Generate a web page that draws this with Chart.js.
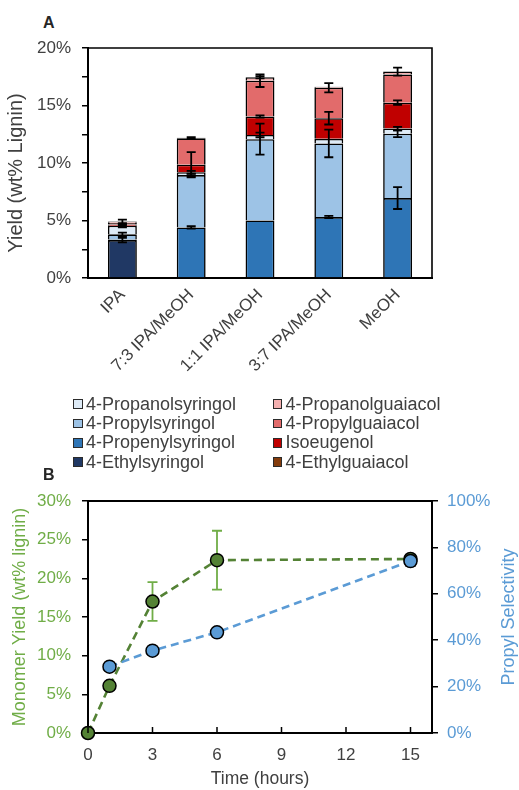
<!DOCTYPE html>
<html>
<head>
<meta charset="utf-8">
<script src="https://cdn.jsdelivr.net/npm/chart.js@4/dist/chart.umd.min.js"></script>
<style>
  html, body { margin: 0; padding: 0; background: #fff; }
  body { width: 519px; height: 790px; position: relative; overflow: hidden;
         font-family: "Liberation Sans", Arial, sans-serif; }
  #wrapA { position: absolute; left: 0; top: 0; width: 519px; height: 395px; }
  #wrapB { position: absolute; left: 0; top: 470px; width: 519px; height: 320px; }
  .tag { position: absolute; font-weight: bold; font-size: 16px; color: #262626; }
  #legend { position: absolute; left: 73px; top: 394.5px; display: grid;
            grid-template-columns: 199.5px auto; grid-template-rows: repeat(4, 19.35px);
            grid-auto-flow: column; font-size: 18px; color: #404040; }
  .item { display: flex; align-items: center; white-space: nowrap; line-height: 19.35px; }
  .box { width: 7.5px; height: 7.5px; border: 1.3px solid #2b2b2b; margin-right: 3.5px; flex: none; }
</style>
</head>
<body>
<div class="tag" style="left:43px; top:14px;">A</div>
<div id="wrapA"><canvas id="chartA" width="519" height="395"></canvas></div>
<div id="legend"></div>
<div class="tag" style="left:43px; top:466px;">B</div>
<div id="wrapB"><canvas id="chartB" width="519" height="320"></canvas></div>

<script>
// ---- Panel A: monomer yields by solvent (wt% of lignin) ----
const solvents = ['IPA', '7:3 IPA/MeOH', '1:1 IPA/MeOH', '3:7 IPA/MeOH', 'MeOH'];

const ethylsyringol     = [3.30, 0.00, 0.00, 0.00, 0.00];
const propenylsyringol  = [0.05, 4.40, 5.00, 5.30, 6.95];
const propylsyringol    = [0.45, 4.55, 7.07, 6.40, 5.60];
const propanolsyringol  = [0.75, 0.25, 0.37, 0.40, 0.45];
const ethylguaiacol     = [0.00, 0.00, 0.00, 0.00, 0.00];
const isoeugenol        = [0.10, 0.65, 1.60, 1.80, 2.25];
const propylguaiacol    = [0.15, 2.30, 3.12, 2.65, 2.45];
const propanolguaiacol  = [0.12, 0.05, 0.30, 0.08, 0.25];

// standard deviations, drawn at the top of each stacked segment
const ethylsyringolErr    = [0.20, 0, 0, 0, 0];
const propenylsyringolErr = [0, 0.10, 0, 0.10, 0.95];
const propylsyringolErr   = [0.15, 0.10, 1.35, 1.20, 0.30];
const propanolsyringolErr = [0.15, 0.12, 0.20, 0, 0.15];
const ethylguaiacolErr    = [0, 0, 0, 0, 0];
const isoeugenolErr       = [0.05, 1.10, 0.10, 0.55, 0.20];
const propylguaiacolErr   = [0, 0, 0.55, 0.40, 0];
const propanolguaiacolErr = [0.15, 0.05, 0.10, 0, 0.35];

// ---- Panel B: time course ----
const yieldHours = [0, 1, 3, 6, 15];
const monomerYield = [0, 6.1, 17.0, 22.35, 22.5];
const monomerYieldErr = [0, 0, 2.5, 3.8, 0];
const selectivityHours = [1, 3, 6, 15];
const propylSelectivity = [28.6, 35.5, 43.4, 74.1];
const propylSelectivityErr = [0, 0, 0, 2.0];
const hourTicks = [0, 3, 6, 9, 12, 15];

const FONT = '"Liberation Sans", Arial, sans-serif';
const TEXT = '#404040';
const GREEN = '#548235', GREEN_TXT = '#70AD47';
const BLUE = '#5B9BD5';

Chart.defaults.font.family = FONT;
Chart.defaults.font.size = 17;
Chart.defaults.color = TEXT;
Chart.defaults.animation = false;

const segments = [
  { label: '4-Ethylsyringol',    data: ethylsyringol,    errors: ethylsyringolErr,    color: '#203864' },
  { label: '4-Propenylsyringol', data: propenylsyringol, errors: propenylsyringolErr, color: '#2E75B6' },
  { label: '4-Propylsyringol',   data: propylsyringol,   errors: propylsyringolErr,   color: '#9DC3E6' },
  { label: '4-Propanolsyringol', data: propanolsyringol, errors: propanolsyringolErr, color: '#DEEBF7' },
  { label: '4-Ethylguaiacol',    data: ethylguaiacol,    errors: ethylguaiacolErr,    color: '#843C0C' },
  { label: 'Isoeugenol',         data: isoeugenol,       errors: isoeugenolErr,       color: '#C00000' },
  { label: '4-Propylguaiacol',   data: propylguaiacol,   errors: propylguaiacolErr,   color: '#E26B6B' },
  { label: '4-Propanolguaiacol', data: propanolguaiacol, errors: propanolguaiacolErr, color: '#F4B0B0' }
];

// top edge (and optionally right edge) of the plot box
const frameBox = {
  id: 'frameBox',
  afterDraw(chart, args, opts) {
    const { ctx, chartArea: a } = chart;
    ctx.save();
    ctx.strokeStyle = '#000';
    ctx.lineWidth = opts.width || 1.6;
    ctx.beginPath();
    ctx.moveTo(a.left, a.top);
    ctx.lineTo(a.right, a.top);
    if (opts.right) ctx.lineTo(a.right, a.bottom);
    ctx.stroke();
    ctx.restore();
  }
};

// vertical axis title reading bottom-to-top beside the given scale
const sideTitle = {
  id: 'sideTitle',
  afterDraw(chart, args, opts) {
    const s = chart.scales[opts.axis];
    const { ctx } = chart;
    ctx.save();
    ctx.font = `${opts.size}px ${FONT}`;
    ctx.fillStyle = opts.color;
    ctx.textAlign = 'center';
    ctx.textBaseline = 'middle';
    const x = opts.side === 'right' ? s.right - opts.inset : s.left + opts.inset;
    ctx.translate(x, (s.top + s.bottom) / 2 + (opts.shift || 0));
    ctx.rotate(-Math.PI / 2);
    ctx.fillText(opts.text, 0, 0);
    ctx.restore();
  }
};

// error bars on stacked segments
const stackErrors = {
  id: 'stackErrors',
  afterDatasetsDraw(chart) {
    const { ctx, scales: { x, y } } = chart;
    const cum = chart.data.labels.map(() => 0);
    ctx.save();
    ctx.strokeStyle = '#000';
    ctx.lineWidth = 1.8;
    chart.data.datasets.forEach(ds => {
      ds.data.forEach((v, j) => {
        cum[j] += v;
        const e = ds.errors[j];
        if (!e) return;
        const px = x.getPixelForValue(j);
        const lo = y.getPixelForValue(cum[j] - e);
        const hi = y.getPixelForValue(cum[j] + e);
        ctx.beginPath();
        ctx.moveTo(px, lo); ctx.lineTo(px, hi);
        ctx.moveTo(px - 4.5, lo); ctx.lineTo(px + 4.5, lo);
        ctx.moveTo(px - 4.5, hi); ctx.lineTo(px + 4.5, hi);
        ctx.stroke();
      });
    });
    ctx.restore();
  }
};

const chartA = new Chart(document.getElementById('chartA'), {
  type: 'bar',
  data: {
    labels: solvents,
    datasets: segments.map(s => ({
      label: s.label,
      data: s.data,
      errors: s.errors,
      backgroundColor: s.color,
      borderColor: '#000',
      borderWidth: 1.6,
      barPercentage: 0.42,
      categoryPercentage: 1
    }))
  },
  options: {
    responsive: false,
    devicePixelRatio: 1,
    layout: { padding: { left: 0, top: 48, right: 87, bottom: 0 } },
    plugins: {
      legend: { display: false }, tooltip: { enabled: false },
      frameBox: { right: true, width: 1.6 },
      sideTitle: { axis: 'y', side: 'left', inset: 16, shift: 10, size: 20, color: TEXT, text: 'Yield (wt% Lignin)' }
    },
    scales: {
      x: {
        stacked: true,
        grid: { display: false, drawTicks: false },
        border: { display: true, color: '#000', width: 2 },
        ticks: { minRotation: 45, maxRotation: 45, padding: 7, color: TEXT, font: { size: 17 } },
        afterFit(scale) { scale.height = 117; }
      },
      y: {
        stacked: true,
        min: 0, max: 20,
        grid: { drawOnChartArea: false, drawTicks: true, tickLength: 6, color: '#000', lineWidth: 1.5 },
        border: { display: true, color: '#000', width: 2 },
        ticks: {
          stepSize: 2.5, padding: 11, color: TEXT, font: { size: 17 },
          callback: v => (v % 5 === 0 ? v + '%' : '')
        },
        afterFit(scale) { scale.width = 88; }
      }
    }
  },
  plugins: [stackErrors, frameBox, sideTitle]
});

// legend in two columns: syringols left, guaiacols right, top of stack first
const legendOrder = [
  '4-Propanolsyringol', '4-Propylsyringol', '4-Propenylsyringol', '4-Ethylsyringol',
  '4-Propanolguaiacol', '4-Propylguaiacol', 'Isoeugenol', '4-Ethylguaiacol'
];
const legendEl = document.getElementById('legend');
legendOrder.forEach(name => {
  const ds = chartA.data.datasets.find(d => d.label === name);
  const item = document.createElement('div');
  item.className = 'item';
  const box = document.createElement('span');
  box.className = 'box';
  box.style.background = ds.backgroundColor;
  const txt = document.createElement('span');
  txt.textContent = ds.label;
  item.appendChild(box); item.appendChild(txt);
  legendEl.appendChild(item);
});

// ---- Panel B ----
const pointErrors = {
  id: 'pointErrors',
  beforeDatasetsDraw(chart) {
    const { ctx } = chart;
    ctx.save();
    chart.data.datasets.forEach((ds, i) => {
      const meta = chart.getDatasetMeta(i);
      const ys = chart.scales[ds.yAxisID];
      ctx.strokeStyle = ds.errorColor;
      ctx.lineWidth = 1.8;
      ds.data.forEach((p, j) => {
        const e = ds.errors[j];
        if (!e) return;
        const px = meta.data[j].x;
        const lo = ys.getPixelForValue(p.y - e);
        const hi = ys.getPixelForValue(p.y + e);
        ctx.beginPath();
        ctx.moveTo(px, lo); ctx.lineTo(px, hi);
        ctx.moveTo(px - 5, lo); ctx.lineTo(px + 5, lo);
        ctx.moveTo(px - 5, hi); ctx.lineTo(px + 5, hi);
        ctx.stroke();
      });
    });
    ctx.restore();
  }
};

// x tick marks pointing into the plot
const innerXTicks = {
  id: 'innerXTicks',
  afterDraw(chart) {
    const { ctx, scales: { x }, chartArea: a } = chart;
    ctx.save();
    ctx.strokeStyle = '#000';
    ctx.lineWidth = 1.5;
    x.ticks.forEach(t => {
      const px = x.getPixelForValue(t.value);
      ctx.beginPath();
      ctx.moveTo(px, a.bottom);
      ctx.lineTo(px, a.bottom - 6);
      ctx.stroke();
    });
    ctx.restore();
  }
};

new Chart(document.getElementById('chartB'), {
  type: 'line',
  data: {
    datasets: [
      {
        label: 'Propyl Selectivity',
        data: selectivityHours.map((t, i) => ({ x: t, y: propylSelectivity[i] })),
        errors: propylSelectivityErr,
        errorColor: '#000',
        yAxisID: 'y1',
        order: 0,
        borderColor: BLUE,
        borderWidth: 2.6,
        borderDash: [8, 5],
        pointRadius: 6.5,
        pointBackgroundColor: BLUE,
        pointBorderColor: '#000',
        pointBorderWidth: 1.5,
        clip: false
      },
      {
        label: 'Monomer Yield',
        data: yieldHours.map((t, i) => ({ x: t, y: monomerYield[i] })),
        errors: monomerYieldErr,
        errorColor: GREEN_TXT,
        yAxisID: 'y',
        order: 1,
        borderColor: GREEN,
        borderWidth: 2.6,
        borderDash: [8, 5],
        pointRadius: 6.5,
        pointBackgroundColor: GREEN,
        pointBorderColor: '#000',
        pointBorderWidth: 1.5,
        clip: false
      }
    ]
  },
  options: {
    responsive: false,
    devicePixelRatio: 1,
    layout: { padding: { left: 0, top: 31, right: 0, bottom: 0 } },
    plugins: {
      legend: { display: false }, tooltip: { enabled: false },
      frameBox: { right: false, width: 2 },
      sideTitle: { axis: 'y1', side: 'right', inset: 9.5, size: 18, color: BLUE, text: 'Propyl Selectivity' }
    },
    scales: {
      x: {
        type: 'linear',
        min: 0, max: 16,
        grid: { display: false, drawTicks: false },
        border: { display: true, color: '#000', width: 2 },
        ticks: { padding: 12, color: TEXT, font: { size: 17 } },
        afterBuildTicks(scale) { scale.ticks = hourTicks.map(v => ({ value: v })); },
        title: { display: true, text: 'Time (hours)', color: TEXT, font: { size: 17.5 }, padding: { top: 0, bottom: 0 } },
        afterFit(scale) { scale.height = 57; }
      },
      y: {
        position: 'left',
        min: 0, max: 30,
        grid: { drawOnChartArea: false, drawTicks: true, tickLength: 6, color: '#000', lineWidth: 1.5 },
        border: { display: true, color: '#000', width: 2 },
        ticks: {
          stepSize: 2.5, padding: 11, color: GREEN_TXT, font: { size: 17 },
          callback: v => (v % 5 === 0 ? v + '%' : '')
        },
        title: { display: true, text: 'Monomer Yield (wt% lignin)', color: GREEN_TXT, font: { size: 18 }, padding: { top: 9, bottom: 0 } },
        afterFit(scale) { scale.width = 88; }
      },
      y1: {
        position: 'right',
        min: 0, max: 100,
        grid: { drawOnChartArea: false, drawTicks: true, tickLength: 6, color: '#000', lineWidth: 1.5 },
        border: { display: true, color: '#000', width: 2 },
        ticks: {
          stepSize: 10, padding: 9, color: BLUE, font: { size: 17 },
          callback: v => (v % 20 === 0 ? v + '%' : '')
        },
        afterFit(scale) { scale.width = 87; }
      }
    }
  },
  plugins: [pointErrors, innerXTicks, frameBox, sideTitle]
});
</script>
</body>
</html>
